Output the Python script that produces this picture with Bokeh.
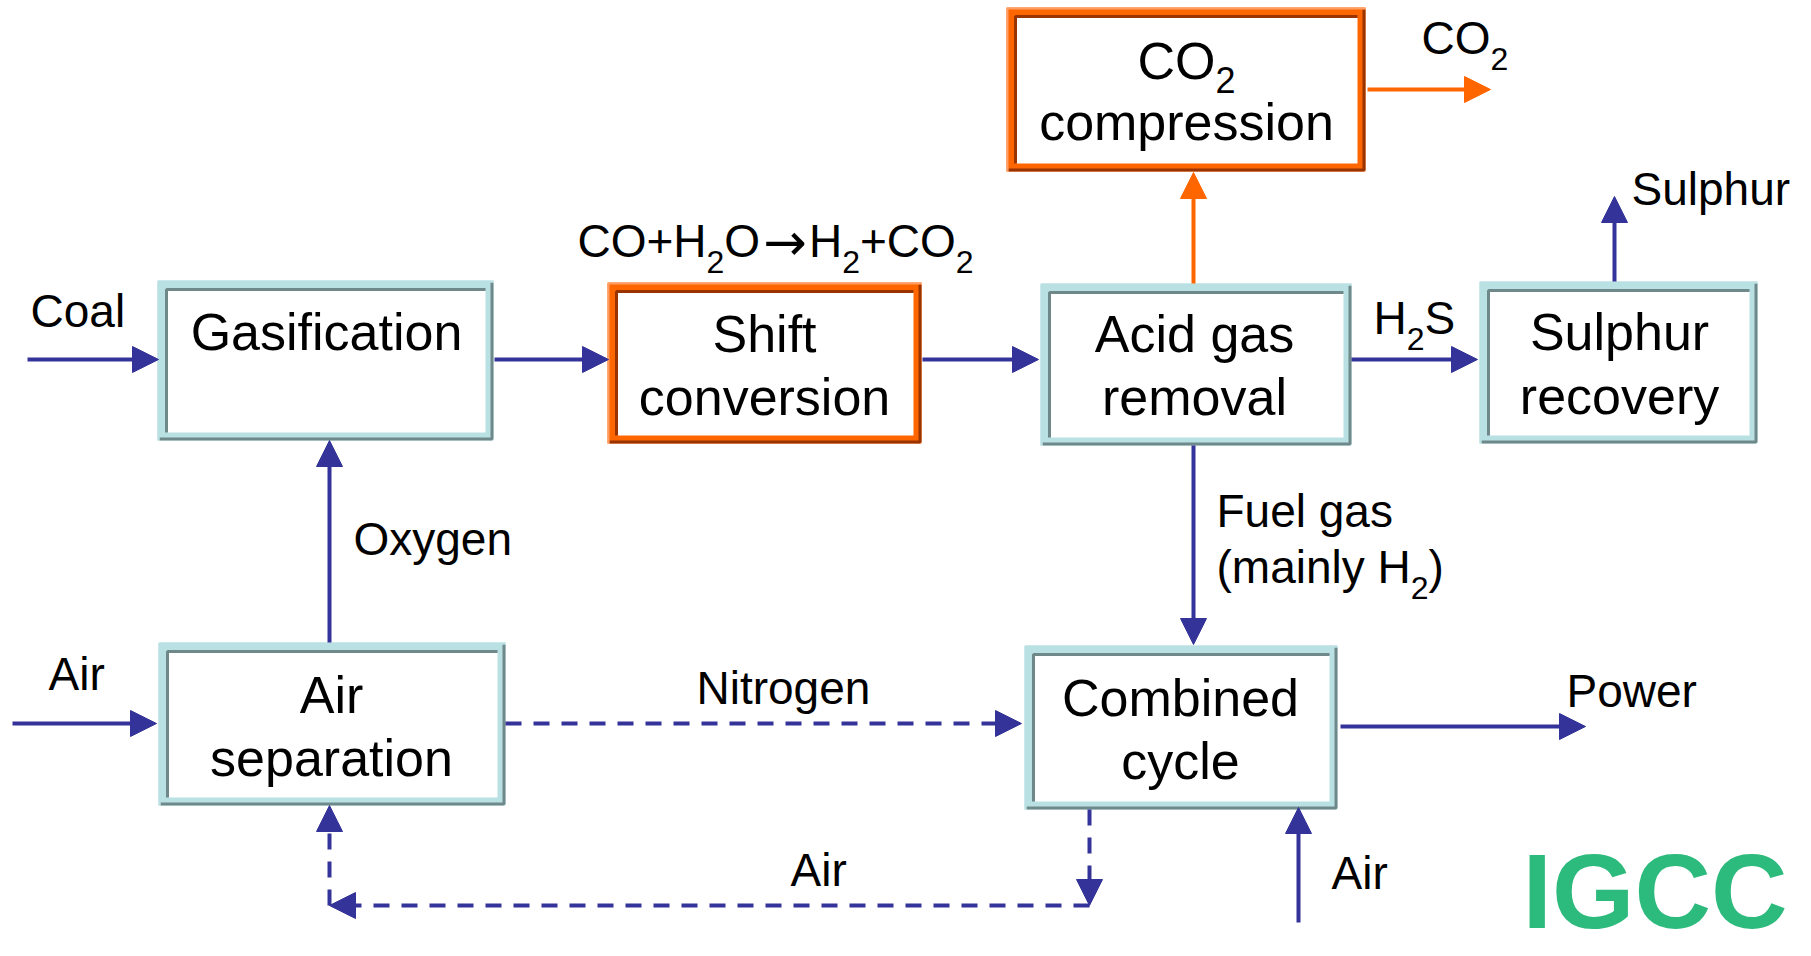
from bokeh.plotting import figure
from bokeh.models import Range1d, ColumnDataSource, Arrow, NormalHead
from bokeh.core.properties import value
from bokeh.embed import file_html
from bokeh.resources import INLINE

# ---------------- data ----------------
# process boxes (pixel frame of the reference: x to the right, y downwards)
box_names = ["Gasification", "Shift conversion", "Acid gas removal", "Sulphur recovery",
             "CO2 compression", "Air separation", "Combined cycle"]
box_left = [157, 607, 1040, 1479, 1006, 158, 1024]
box_right = [493, 921, 1351, 1757, 1365, 505, 1337]
box_top = [280, 282, 283, 281, 7, 642, 645]
box_bottom = [440, 443, 445, 443, 171, 805, 809]
box_kind = ["plain", "co2", "plain", "plain", "co2", "plain", "plain"]

# box captions: markup "{..}" = subscript
box_lines = [["Gasification"], ["Shift", "conversion"], ["Acid gas", "removal"],
             ["Sulphur", "recovery"], ["CO{2}", "compression"], ["Air", "separation"],
             ["Combined", "cycle"]]
box_text_x = [326, 764, 1194, 1619, 1186, 331, 1180]
box_text_y = [[348], [350, 413], [350, 413], [348, 412], [77, 138], [711, 774], [714, 777]]

# stream labels
flow_labels = ["Coal", "CO+H{2}O\u2192H{2}+CO{2}", "H{2}S", "Sulphur", "CO{2}", "Oxygen",
               "Fuel gas", "(mainly H{2})", "Air", "Nitrogen", "Power", "Air", "Air"]
flow_label_x = [30, 577, 1373, 1631, 1421, 353, 1216, 1216, 48, 696, 1566, 790, 1331]
flow_label_y = [325, 255, 332, 203, 52, 553, 525, 581, 688, 702, 705, 884, 887]

# streams (arrows)
solid_x0 = [27, 494, 922, 1351, 1614, 329, 12, 1193, 1340, 1298]
solid_y0 = [359, 359, 359, 359, 281, 642, 723, 445, 726, 922]
solid_x1 = [158, 608, 1038, 1477, 1614, 329, 156, 1193, 1585, 1298]
solid_y1 = [359, 359, 359, 359, 196, 440, 723, 644, 726, 807]

co2_x0 = [1193, 1367]
co2_y0 = [283, 89]
co2_x1 = [1193, 1490]
co2_y1 = [172, 89]

dash_x0 = [505, 1089, 1089, 329]
dash_y0 = [723, 809, 905, 905]
dash_x1 = [1021, 1089, 329, 329]
dash_y1 = [723, 905, 905, 805]

title_text = "IGCC"

# ---------------- styles ----------------
FONT = "Liberation Sans"
ARROW_FONT = "DejaVu Sans"
BLUE = "#333399"
ORANGE = "#ff6600"
TEAL = "#b9e1e4"
TEAL_DARK = "#6f898b"
ORANGE_DARK = "#993300"
ORANGE_LIGHT = "#ff9d66"
GREEN = "#2dba7d"
BASE_FIX = 0.32   # baseline correction (fraction of font size)

W = {' ': 278, '(': 333, ')': 333, '+': 584, '2': 556, '\u2192': 1060,
     'A': 667, 'C': 722, 'F': 611, 'G': 778, 'H': 722, 'I': 278, 'N': 722, 'O': 778,
     'P': 667, 'S': 667, 'a': 556, 'b': 556, 'c': 500, 'd': 556, 'e': 556, 'f': 278,
     'g': 556, 'h': 556, 'i': 222, 'l': 222, 'm': 833, 'n': 556, 'o': 556, 'p': 556,
     'r': 333, 's': 500, 't': 278, 'u': 556, 'v': 500, 'w': 722, 'x': 500, 'y': 500}


def parse(label):
    parts, cur = [], ""
    for ch in label:
        if ch == "{":
            if cur:
                parts.append((cur, "n"))
            cur = ""
        elif ch == "}":
            parts.append((cur, "s"))
            cur = ""
        elif ch == "\u2192":
            if cur:
                parts.append((cur, "n"))
            parts.append((ch, "a"))
            cur = ""
        else:
            cur += ch
    if cur:
        parts.append((cur, "n"))
    return parts


def width(s, size):
    return sum(W.get(c, 556) for c in s) * size / 1000.0


rows = dict(x=[], y=[], text=[], size=[], font=[])


def place(label, x, y, size, align, sub_shift):
    parts = parse(label)
    sub_size = round(size * 0.7)
    total = sum(width(t, sub_size if k == "s" else size) for t, k in parts)
    cx = x - total / 2 if align == "center" else x
    for t, k in parts:
        sz = sub_size if k == "s" else size
        w = width(t, sz)
        if k == "a":
            asz = size * 1.12
            rows["x"].append(cx + 3)
            rows["font"].append(ARROW_FONT)
            rows["size"].append("%dpx" % round(asz))
            rows["y"].append(y - BASE_FIX * asz + 3)
        else:
            rows["x"].append(cx)
            rows["font"].append(FONT)
            rows["size"].append("%dpx" % sz)
            rows["y"].append(y + (sub_shift if k == "s" else 0) - BASE_FIX * sz)
        rows["text"].append(t)
        cx += w


for lines, tx, tys in zip(box_lines, box_text_x, box_text_y):
    for ln, ty in zip(lines, tys):
        place(ln, tx, ty, 52, "center", 14)

for lab, lx, ly in zip(flow_labels, flow_label_x, flow_label_y):
    place(lab, lx, ly, 46, "left", 17)

# ---------------- figure ----------------
p = figure(width=1811, height=956, output_backend="svg", toolbar_location=None,
           x_range=Range1d(0, 1811), y_range=Range1d(956, 0),
           x_axis_type=None, y_axis_type=None, min_border=0)
p.grid.visible = False
p.outline_line_color = None
p.background_fill_color = "white"
p.border_fill_color = "white"

band = [TEAL if k == "plain" else ORANGE for k in box_kind]
dark = [TEAL_DARK if k == "plain" else ORANGE_DARK for k in box_kind]
light = [TEAL if k == "plain" else ORANGE_LIGHT for k in box_kind]

# bevelled frames
p.quad(left=box_left, right=box_right, top=box_top, bottom=box_bottom,
       fill_color=band, line_color=None)
p.quad(left=[a + 10 for a in box_left], right=[b - 8 for b in box_right],
       top=[a + 10 for a in box_top], bottom=[b - 8 for b in box_bottom],
       fill_color="white", line_color=None)

xs_dark, ys_dark, c_dark = [], [], []
xs_light, ys_light, c_light = [], [], []
for x0, x1, y0, y1, dc, lc in zip(box_left, box_right, box_top, box_bottom, dark, light):
    xs_dark.append([x1 - 8, x0 + 9, x0 + 9]); ys_dark.append([y0 + 9, y0 + 9, y1 - 8]); c_dark.append(dc)
    xs_dark.append([x0 + 2, x1 - 1.5, x1 - 1.5]); ys_dark.append([y1 - 1.5, y1 - 1.5, y0 + 2]); c_dark.append(dc)
    xs_light.append([x1, x0 + 1, x0 + 1]); ys_light.append([y0 + 1, y0 + 1, y1]); c_light.append(lc)
p.multi_line(xs=xs_dark, ys=ys_dark, line_color=c_dark, line_width=3)
p.multi_line(xs=xs_light, ys=ys_light, line_color=c_light, line_width=2)


def add_arrows(x0, y0, x1, y1, color, lw, dash="solid"):
    src = ColumnDataSource(dict(x0=x0, y0=y0, x1=x1, y1=y1))
    head = NormalHead(size=26, fill_color=color, line_color=color, line_width=1)
    p.add_layout(Arrow(end=head, x_start="x0", y_start="y0", x_end="x1", y_end="y1",
                       source=src, line_color=color, line_width=lw, line_dash=dash))


add_arrows(solid_x0, solid_y0, solid_x1, solid_y1, BLUE, 4)
add_arrows(co2_x0, co2_y0, co2_x1, co2_y1, ORANGE, 4)
add_arrows(dash_x0, dash_y0, dash_x1, dash_y1, BLUE, 4, "16 12")

p.text(x="x", y="y", text="text", source=ColumnDataSource(rows),
       text_font="font", text_font_size="size", text_color="black",
       text_align="left", text_baseline="alphabetic")

p.text(x=[1522], y=[924 - BASE_FIX * 106], text=[title_text], text_font=value(FONT),
       text_font_size=value("106px"), text_font_style="bold", text_color=GREEN,
       text_align="left", text_baseline="alphabetic")

open("out.html", "w").write(file_html(p, INLINE))
